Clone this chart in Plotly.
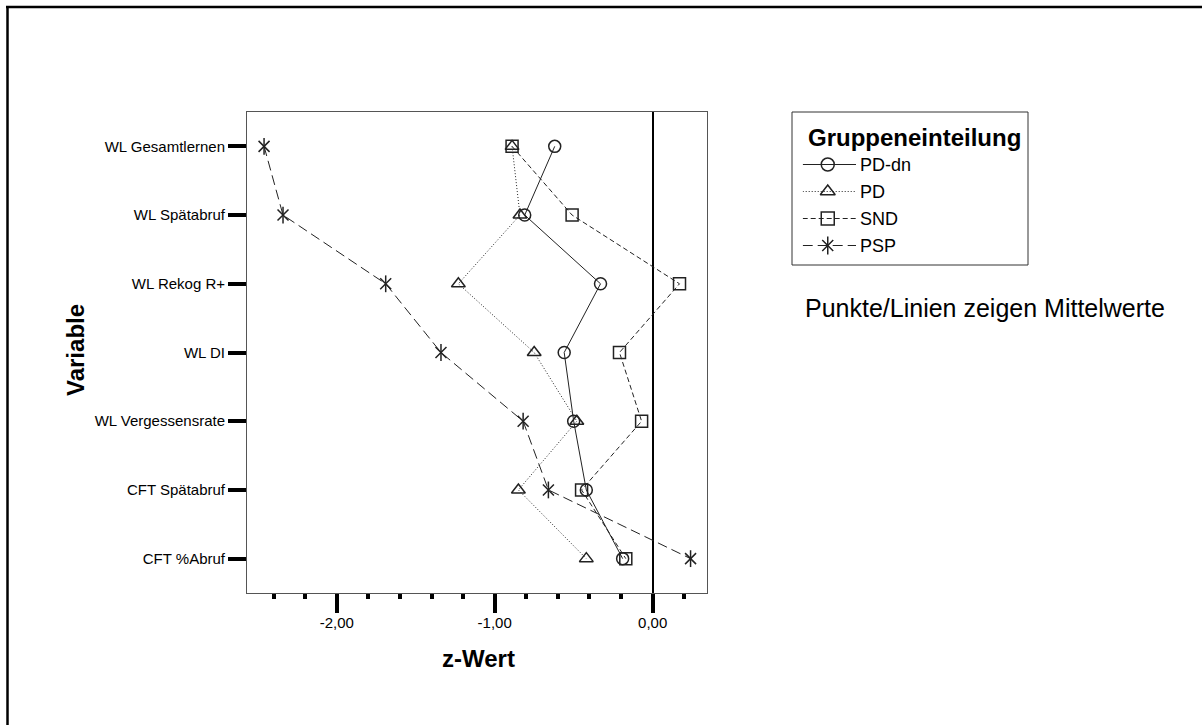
import plotly.graph_objects as go

# Mean z-scores per variable and diagnostic group
variables = ["WL Gesamtlernen", "WL Spätabruf", "WL Rekog R+", "WL DI",
             "WL Vergessensrate", "CFT Spätabruf", "CFT %Abruf"]
pd_dn = [-0.62, -0.81, -0.33, -0.56, -0.50, -0.42, -0.19]
pd_vals = [-0.89, -0.84, -1.23, -0.75, -0.48, -0.85, -0.42]
snd = [-0.89, -0.51, 0.17, -0.21, -0.07, -0.45, -0.17]
psp = [-2.46, -2.34, -1.69, -1.34, -0.82, -0.66, 0.24]

group_names = ["PD-dn", "PD", "SND", "PSP"]
x_ticks = [-2, -1, 0]

W, H = 1204, 727
FONT = "Liberation Sans, Arial, sans-serif"
INK = "#222222"


def px_x(px):
    return px / W


def px_y(py):
    return 1 - py / H


def de_number(v):
    # German decimal comma, plain hyphen for the sign
    return f"{v:.2f}".replace(".", ",")


styles = {
    "PD-dn": dict(dash="solid", symbol="circle-open"),
    "PD": dict(dash="1px,2px", symbol="triangle-up-open"),
    "SND": dict(dash="5px,3px", symbol="square-open"),
    "PSP": dict(dash="10px,5px", symbol="line-ns-open"),
}
series = {"PD-dn": pd_dn, "PD": pd_vals, "SND": snd, "PSP": psp}

fig = go.Figure()

for name in group_names:
    st = styles[name]
    fig.add_trace(go.Scatter(
        x=series[name], y=variables, mode="lines+markers", name=name,
        line=dict(color=INK, width=1, dash=st["dash"]),
        marker=dict(symbol=st["symbol"], size=12, color=INK,
                    line=dict(color=INK, width=1.5)),
        showlegend=False, xaxis="x", yaxis="y",
    ))
# second stroke set for the PSP asterisk
fig.add_trace(go.Scatter(
    x=psp, y=variables, mode="markers",
    marker=dict(symbol="x-thin-open", size=11, color=INK,
                line=dict(color=INK, width=1.5)),
    showlegend=False, xaxis="x", yaxis="y",
))

# hand-built key in a small inset axis
legend_rows = list(range(len(group_names)))
for row, name in zip(legend_rows, group_names):
    st = styles[name]
    fig.add_trace(go.Scatter(
        x=[0, 1], y=[row, row], mode="lines",
        line=dict(color=INK, width=1, dash=st["dash"]),
        showlegend=False, xaxis="x2", yaxis="y2", hoverinfo="skip",
    ))
    syms = [st["symbol"]] + (["x-thin-open"] if name == "PSP" else [])
    for s in syms:
        fig.add_trace(go.Scatter(
            x=[0.47], y=[row], mode="markers",
            marker=dict(symbol=s, size=13 if s != "x-thin-open" else 11,
                        color=INK, line=dict(color=INK, width=1.5)),
            showlegend=False, xaxis="x2", yaxis="y2", hoverinfo="skip",
        ))

annotations = [
    dict(text="<b>z-Wert</b>", x=px_x(478), y=px_y(658), xref="paper", yref="paper",
         showarrow=False, font=dict(size=24, family=FONT, color="black"),
         xanchor="center", yanchor="middle"),
    dict(text="<b>Variable</b>", x=px_x(75), y=px_y(350), xref="paper", yref="paper",
         showarrow=False, textangle=-90, font=dict(size=24, family=FONT, color="black"),
         xanchor="center", yanchor="middle"),
    dict(text="<b>Gruppeneinteilung</b>", x=px_x(806), y=px_y(137), xref="paper",
         yref="paper", showarrow=False, font=dict(size=24, family=FONT, color="black"),
         xanchor="left", yanchor="middle"),
    dict(text="Punkte/Linien zeigen Mittelwerte", x=px_x(985), y=px_y(308),
         xref="paper", yref="paper", showarrow=False,
         font=dict(size=25, family=FONT, color="black"),
         xanchor="center", yanchor="middle"),
]
for row, name in zip(legend_rows, group_names):
    annotations.append(dict(
        text=name, x=px_x(858), y=row, xref="paper", yref="y2", showarrow=False,
        font=dict(size=18, family=FONT, color="black"), xanchor="left", yanchor="middle",
    ))

shapes = [
    # outer frame, top edge
    dict(type="line", xref="paper", yref="paper", x0=px_x(6), x1=px_x(1202),
         y0=px_y(7), y1=px_y(7), line=dict(color="black", width=2.5)),
    # outer frame, left edge
    dict(type="line", xref="paper", yref="paper", x0=px_x(7.5), x1=px_x(7.5),
         y0=px_y(6), y1=px_y(725), line=dict(color="black", width=2.5)),
    # key box
    dict(type="rect", xref="paper", yref="paper", x0=px_x(792), x1=px_x(1028),
         y0=px_y(265), y1=px_y(112), line=dict(color="#333333", width=1)),
]

fig.update_layout(
    width=W, height=H, margin=dict(l=0, r=0, t=0, b=0),
    paper_bgcolor="white", plot_bgcolor="white",
    font=dict(family=FONT, color="black"),
    xaxis=dict(
        domain=[px_x(247), px_x(707)], range=[-2.568, 0.344],
        tickmode="array", tickvals=x_ticks, ticktext=[de_number(v) for v in x_ticks],
        ticks="outside", ticklen=19, tickwidth=4, tickcolor="black",
        ticklabelstandoff=-3,
        minor=dict(dtick=0.2, tick0=0, ticks="outside", ticklen=5, tickwidth=4,
                   tickcolor="black", showgrid=False),
        showgrid=False, zeroline=True, zerolinecolor="black", zerolinewidth=2,
        showline=True, linecolor="#555555", linewidth=1, mirror=True,
        tickfont=dict(size=15, family=FONT, color="black"),
        anchor="y", fixedrange=True,
    ),
    yaxis=dict(
        domain=[1 - 593 / H, 1 - 112 / H], type="category",
        categoryorder="array", categoryarray=variables, range=[6.5, -0.5],
        ticks="outside", ticklen=18, tickwidth=4, tickcolor="black",
        showgrid=False, zeroline=False,
        showline=True, linecolor="#555555", linewidth=1, mirror=True,
        tickfont=dict(size=15, family=FONT, color="black"),
        anchor="x", fixedrange=True,
    ),
    xaxis2=dict(domain=[px_x(802.7), px_x(856)], range=[0, 1], visible=False,
                anchor="y2", fixedrange=True),
    yaxis2=dict(domain=[1 - 259 / H, 1 - 151 / H], range=[3.5, -0.5], visible=False,
                anchor="x2", fixedrange=True),
    annotations=annotations,
    shapes=shapes,
    showlegend=False,
)

fig.write_html("out.html")
